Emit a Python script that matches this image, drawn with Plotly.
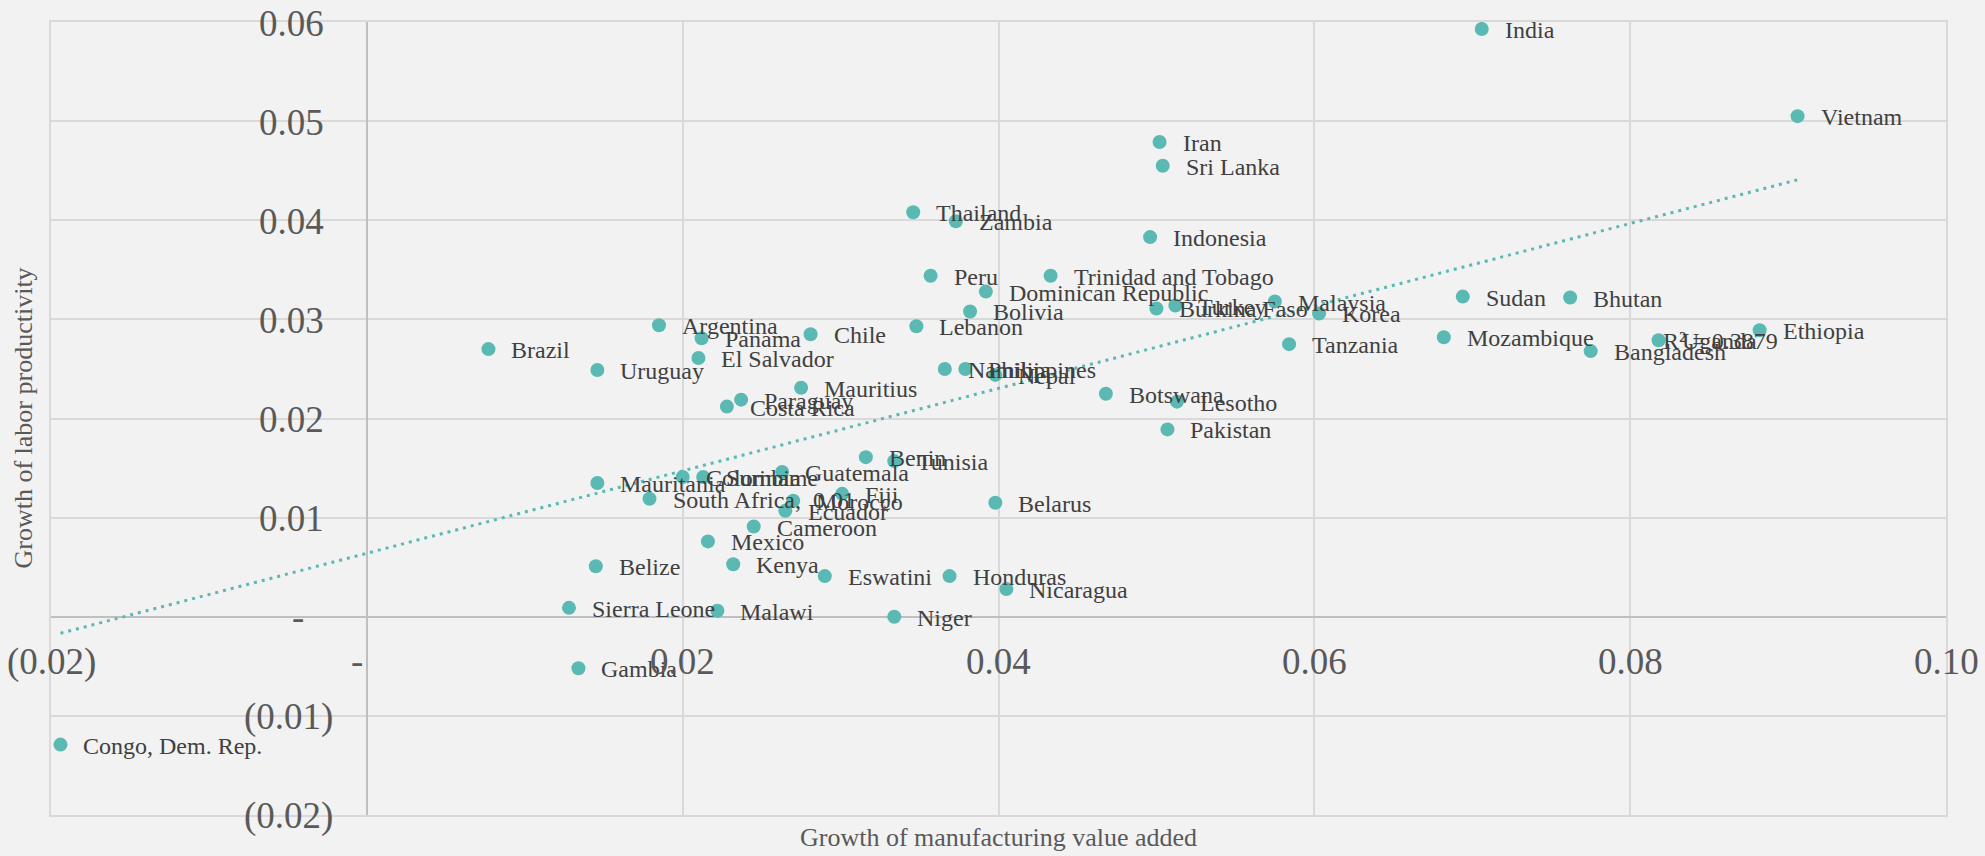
import numpy as np
import plotly.graph_objects as go

# Growth of manufacturing value added (x) vs growth of labor productivity (y)
countries = [
    "India", "Vietnam", "Iran", "Sri Lanka", "Thailand", "Zambia", "Indonesia",
    "Peru", "Trinidad and Tobago", "Dominican Republic", "Sudan", "Bhutan",
    "Malaysia", "Burkina Faso", "Turkey", "Korea", "Tanzania", "Bolivia",
    "Argentina", "Lebanon", "Ethiopia", "Chile", "Mozambique", "Panama",
    "Uganda", "Brazil", "Bangladesh", "El Salvador", "Uruguay", "Namibia",
    "Philippines", "Nepal", "Mauritius", "Botswana", "Paraguay", "Lesotho",
    "Costa Rica", "Pakistan", "Benin", "Tunisia", "Guatemala", "Colombia",
    "Suriname", "Mauritania", "South Africa", "Morocco", "Fiji", "Ecuador",
    "Belarus", "Cameroon", "Mexico", "Belize", "Kenya", "Eswatini", "Honduras",
    "Nicaragua", "Sierra Leone", "Malawi", "Niger", "Gambia", "Congo, Dem. Rep.",
]
mva_growth = [
    0.0706, 0.0906, 0.0502, 0.0504, 0.0346, 0.0373, 0.0496,
    0.0357, 0.0433, 0.0392, 0.0694, 0.0762,
    0.0575, 0.0500, 0.0512, 0.0603, 0.0584, 0.0382,
    0.0185, 0.0348, 0.0882, 0.0281, 0.0682, 0.0212,
    0.0818, 0.0077, 0.0775, 0.0210, 0.0146, 0.0366,
    0.0379, 0.0398, 0.0275, 0.0468, 0.0237, 0.0513,
    0.0228, 0.0507, 0.0316, 0.0334, 0.0263, 0.0200,
    0.0213, 0.0146, 0.0179, 0.0270, 0.0301, 0.0265,
    0.0398, 0.0245, 0.0216, 0.0145, 0.0232, 0.0290, 0.0369,
    0.0405, 0.0128, 0.0222, 0.0334, 0.0134, -0.0194,
]
productivity_growth = [
    0.0593, 0.0505, 0.0479, 0.0455, 0.0408, 0.0399, 0.0383,
    0.0344, 0.0344, 0.0328, 0.0323, 0.0322,
    0.0318, 0.0311, 0.0314, 0.0306, 0.0275, 0.0308,
    0.0294, 0.0293, 0.0289, 0.0285, 0.0282, 0.0281,
    0.0279, 0.0270, 0.0268, 0.0261, 0.0249, 0.0250,
    0.0250, 0.0244, 0.0231, 0.0225, 0.0219, 0.0217,
    0.0212, 0.0189, 0.0161, 0.0157, 0.0146, 0.0141,
    0.0141, 0.0135, 0.0119, 0.0117, 0.0124, 0.0107,
    0.0115, 0.0091, 0.0076, 0.0051, 0.0053, 0.0041, 0.0041,
    0.0028, 0.0009, 0.0006, 0.0000, -0.0052, -0.0129,
]
# countries whose label also carries the y value
value_labelled = ["South Africa"]

x_ticks = [-0.02, 0.0, 0.02, 0.04, 0.06, 0.08, 0.10]
y_ticks = [-0.02, -0.01, 0.0, 0.01, 0.02, 0.03, 0.04, 0.05, 0.06]
r2_text = "R² = 0.3879"

FONT = "Liberation Serif"
TEAL = "#5bb9b3"
LABEL_GREY = "#404040"
AXIS_GREY = "#595959"


def accounting(v):
    """Excel accounting style: negatives in parentheses, zero as a dash."""
    if abs(v) < 1e-12:
        return "-"
    if v < 0:
        return f"({abs(v):.2f})"
    return f"{v:.2f}"


x = np.array(mva_growth)
y = np.array(productivity_growth)
slope, intercept = np.polyfit(x, y, 1)
trend_x = np.array([x.min(), x.max()])
trend_y = slope * trend_x + intercept

fig = go.Figure()
fig.add_trace(go.Scatter(
    x=trend_x, y=trend_y, mode="lines",
    line=dict(color=TEAL, width=3, dash="3px,5px"),
    hoverinfo="skip", showlegend=False,
))
fig.add_trace(go.Scatter(
    x=x, y=y, mode="markers",
    marker=dict(color=TEAL, size=14, line=dict(width=0)),
    text=countries, showlegend=False,
))

annotations = []
for name, xv, yv in zip(countries, mva_growth, productivity_growth):
    label = name
    if name in value_labelled:
        label = f"{name},\u00a0\u00a0{accounting(yv)}"
    annotations.append(dict(
        x=xv, y=yv, xref="x", yref="y", text=label, showarrow=False,
        xanchor="left", yanchor="middle", xshift=21, yshift=-1,
        font=dict(family=FONT, size=24, color=LABEL_GREY),
    ))

# tick labels sit along the zero lines
for xv in x_ticks:
    t = accounting(xv)
    annotations.append(dict(
        x=xv, y=0, xref="x", yref="y", text=t, showarrow=False,
        xanchor="center", yanchor="middle", yshift=-45,
        xshift=-10 if t == "-" else 0,
        font=dict(family=FONT, size=37, color=AXIS_GREY),
    ))
for yv in y_ticks:
    t = accounting(yv)
    if t == "-":
        shift = -61
    elif yv < 0:
        shift = -32
    else:
        shift = -41
    annotations.append(dict(
        x=0, y=yv, xref="x", yref="y", text=t, showarrow=False,
        xanchor="right", yanchor="middle", xshift=shift, yshift=-1,
        font=dict(family=FONT, size=37, color=AXIS_GREY),
    ))

annotations.append(dict(
    x=0.0857, y=0.0278, xref="x", yref="y", text=r2_text, showarrow=False,
    xanchor="center", yanchor="middle",
    font=dict(family=FONT, size=24, color=LABEL_GREY),
))

annotations.append(dict(
    x=0.5, y=0, xref="paper", yref="paper",
    text="Growth of manufacturing value added", showarrow=False,
    xanchor="center", yanchor="middle", yshift=-22,
    font=dict(family=FONT, size=26, color=AXIS_GREY),
))
annotations.append(dict(
    x=0, y=0.5, xref="paper", yref="paper",
    text="Growth of labor productivity", showarrow=False, textangle=-90,
    xanchor="center", yanchor="middle", xshift=-28,
    font=dict(family=FONT, size=26, color=AXIS_GREY),
))

fig.update_layout(
    width=1985, height=856,
    margin=dict(l=51, r=39, t=22, b=41),
    paper_bgcolor="#f2f2f2", plot_bgcolor="#f2f2f2",
    font=dict(family=FONT),
    annotations=annotations,
    showlegend=False,
    xaxis=dict(
        range=[-0.02, 0.10], tickvals=x_ticks, showticklabels=False,
        showgrid=True, gridcolor="#d9d9d9", gridwidth=2,
        zeroline=True, zerolinecolor="#bfbfbf", zerolinewidth=2,
        showline=True, linecolor="#d9d9d9", linewidth=2, mirror=True,
        ticks="",
    ),
    yaxis=dict(
        range=[-0.02, 0.06], tickvals=y_ticks, showticklabels=False,
        showgrid=True, gridcolor="#d9d9d9", gridwidth=2,
        zeroline=True, zerolinecolor="#bfbfbf", zerolinewidth=2,
        showline=True, linecolor="#d9d9d9", linewidth=2, mirror=True,
        ticks="",
    ),
)

fig.write_html("out.html")
